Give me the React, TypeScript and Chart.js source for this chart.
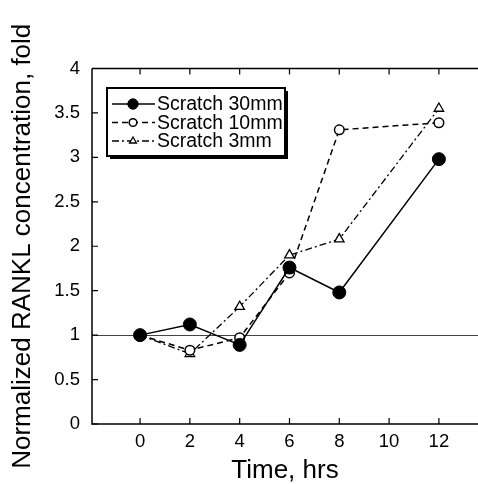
import React, { useEffect, useRef } from 'react';
import { Chart, registerables } from 'chart.js';

Chart.register(...registerables);

// ---- data ----
const hours = [0, 2, 4, 6, 8, 12];
const scratch30 = [1.0, 1.12, 0.89, 1.76, 1.48, 2.98];
const scratch10 = [1.0, 0.83, 0.97, 1.7, 3.31, 3.39];
const scratch3 = [1.0, 0.79, 1.32, 1.9, 2.08, 3.55];
const seriesLabels = ['Scratch 30mm', 'Scratch 10mm', 'Scratch 3mm'];
const xTickValues = [0, 2, 4, 6, 8, 10, 12];
const yTickValues = [0, 0.5, 1, 1.5, 2, 2.5, 3, 3.5, 4];
const referenceLevel = 1;
const xTitle = 'Time, hrs';
const yTitle = 'Normalized RANKL concentration, fold';

const FONT = '"Liberation Sans", Arial, Helvetica, sans-serif';
const INK = '#000';

function drawMarker(ctx: CanvasRenderingContext2D, style: string, x: number, y: number, r: number, fill: string, stroke: string, lw: number) {
  ctx.save();
  ctx.setLineDash([]);
  ctx.beginPath();
  if (style === 'triangle') {
    let rad = 0;
    ctx.moveTo(x + Math.sin(rad) * r, y - Math.cos(rad) * r);
    rad += (2 * Math.PI) / 3;
    ctx.lineTo(x + Math.sin(rad) * r, y - Math.cos(rad) * r);
    rad += (2 * Math.PI) / 3;
    ctx.lineTo(x + Math.sin(rad) * r, y - Math.cos(rad) * r);
    ctx.closePath();
  } else {
    ctx.arc(x, y, r, 0, Math.PI * 2);
  }
  ctx.fillStyle = fill;
  ctx.fill();
  ctx.lineWidth = lw;
  ctx.strokeStyle = stroke;
  ctx.stroke();
  ctx.restore();
}

const framePlugin = {
  id: 'frameTicks',
  beforeDatasetsDraw(chart: any) {
    const { ctx, chartArea, scales } = chart;
    const { left, right, top, bottom } = chartArea;
    ctx.save();
    ctx.strokeStyle = '#000';
    ctx.lineWidth = 1.5;
    ctx.setLineDash([]);
    ctx.beginPath();
    ctx.moveTo(left, top);
    ctx.lineTo(left, bottom);
    ctx.lineTo(right, bottom);
    ctx.moveTo(left, top);
    ctx.lineTo(right, top);
    ctx.stroke();
    ctx.lineWidth = 1.2;
    ctx.beginPath();
    yTickValues.forEach((v) => {
      const y = scales.y.getPixelForValue(v);
      ctx.moveTo(left, y);
      ctx.lineTo(left + 6, y);
    });
    xTickValues.forEach((v) => {
      const x = scales.x.getPixelForValue(v);
      ctx.moveTo(x, bottom);
      ctx.lineTo(x, bottom - 6);
      ctx.moveTo(x, top);
      ctx.lineTo(x, top + 6);
    });
    ctx.stroke();
    ctx.restore();
  },
};

const boxLegendPlugin = {
  id: 'boxLegend',
  afterDraw(chart: any) {
    const { ctx } = chart;
    const x0 = 107, y0 = 88, w = 178, h = 68;
    ctx.save();
    ctx.fillStyle = '#000';
    ctx.fillRect(x0 + 3, y0 + 3, w, h);
    ctx.fillStyle = '#fff';
    ctx.fillRect(x0, y0, w, h);
    ctx.strokeStyle = '#000';
    ctx.lineWidth = 2;
    ctx.setLineDash([]);
    ctx.strokeRect(x0, y0, w, h);
    const rows = [104, 122.5, 141];
    chart.data.datasets.forEach((ds: any, i: number) => {
      const y = rows[i];
      ctx.save();
      ctx.strokeStyle = ds.borderColor;
      ctx.lineWidth = ds.borderWidth;
      ctx.setLineDash(ds.borderDash || []);
      ctx.beginPath();
      ctx.moveTo(112, y);
      ctx.lineTo(155, y);
      ctx.stroke();
      ctx.restore();
      drawMarker(ctx, ds.pointStyle, 133, y, ds.pointStyle === 'triangle' ? 4 : ds.pointRadius * 0.8, ds.pointBackgroundColor, ds.pointBorderColor, ds.pointBorderWidth);
      ctx.fillStyle = INK;
      ctx.font = `19.5px ${FONT}`;
      ctx.textAlign = 'left';
      ctx.textBaseline = 'middle';
      ctx.fillText(ds.label, 157, y + 1);
    });
    ctx.restore();
  },
};

export default function App() {
  const canvasRef = useRef<HTMLCanvasElement | null>(null);

  useEffect(() => {
    if (!canvasRef.current) return;
    const toPts = (vals: number[]) => hours.map((h, i) => ({ x: h, y: vals[i] }));
    const chart = new Chart(canvasRef.current, {
      type: 'line',
      data: {
        datasets: [
          {
            label: seriesLabels[0],
            data: toPts(scratch30),
            borderColor: '#000',
            borderWidth: 1.5,
            pointStyle: 'circle',
            pointRadius: 6.5,
            pointBackgroundColor: '#000',
            pointBorderColor: '#000',
            pointBorderWidth: 1,
            tension: 0,
          },
          {
            label: seriesLabels[1],
            data: toPts(scratch10),
            borderColor: '#000',
            borderWidth: 1.5,
            borderDash: [6, 4],
            pointStyle: 'circle',
            pointRadius: 4.8,
            pointBackgroundColor: '#fff',
            pointBorderColor: '#000',
            pointBorderWidth: 1.5,
            tension: 0,
          },
          {
            label: seriesLabels[2],
            data: toPts(scratch3),
            borderColor: '#000',
            borderWidth: 1.3,
            borderDash: [7, 3, 2, 3],
            pointStyle: 'triangle',
            pointRadius: 5.5,
            pointBackgroundColor: '#fff',
            pointBorderColor: '#000',
            pointBorderWidth: 1.3,
            tension: 0,
          },
        ] as any,
      },
      options: {
        animation: false,
        responsive: false,
        maintainAspectRatio: false,
        layout: { autoPadding: false, padding: { top: 68.5, right: 0, left: 0, bottom: 0 } },
        plugins: {
          legend: { display: false },
          tooltip: { enabled: false },
        },
        scales: {
          x: {
            type: 'linear',
            min: -1.93,
            max: 13.57,
            afterBuildTicks: (s: any) => {
              s.ticks = xTickValues.map((v) => ({ value: v }));
            },
            afterFit: (s: any) => {
              s.height = 60;
              s.paddingLeft = 0;
              s.paddingRight = 0;
            },
            grid: { display: false, drawTicks: false },
            border: { display: false },
            ticks: {
              padding: 7,
              color: INK,
              font: { family: FONT, size: 18.5 },
              callback: (v: any) => String(v),
            },
            title: {
              display: true,
              text: xTitle,
              color: INK,
              font: { family: FONT, size: 26, lineHeight: 1 },
              padding: { top: 0, bottom: 0 },
            },
          },
          y: {
            type: 'linear',
            min: 0,
            max: 4,
            afterBuildTicks: (s: any) => {
              s.ticks = yTickValues.map((v) => ({ value: v }));
            },
            afterFit: (s: any) => {
              s.width = 92;
              s.paddingTop = 0;
              s.paddingBottom = 0;
            },
            grid: {
              drawTicks: false,
              lineWidth: 1,
              color: (c: any) => (c.tick && c.tick.value === referenceLevel ? '#444' : 'rgba(0,0,0,0)'),
            },
            border: { display: false },
            ticks: {
              padding: 12,
              color: INK,
              font: { family: FONT, size: 18.5 },
              callback: (v: any) => String(v),
            },
            title: {
              display: true,
              text: yTitle,
              color: INK,
              font: { family: FONT, size: 26, lineHeight: 1.2 },
              padding: { top: 7, bottom: 0 },
            },
          },
        },
      } as any,
      plugins: [framePlugin, boxLegendPlugin],
    });
    return () => chart.destroy();
  }, []);

  return (
    <div style={{ position: 'fixed', left: 0, top: 0, width: 478, height: 484, background: '#fff' }}>
      <canvas ref={canvasRef} width={478} height={484} style={{ display: 'block' }} />
    </div>
  );
}
